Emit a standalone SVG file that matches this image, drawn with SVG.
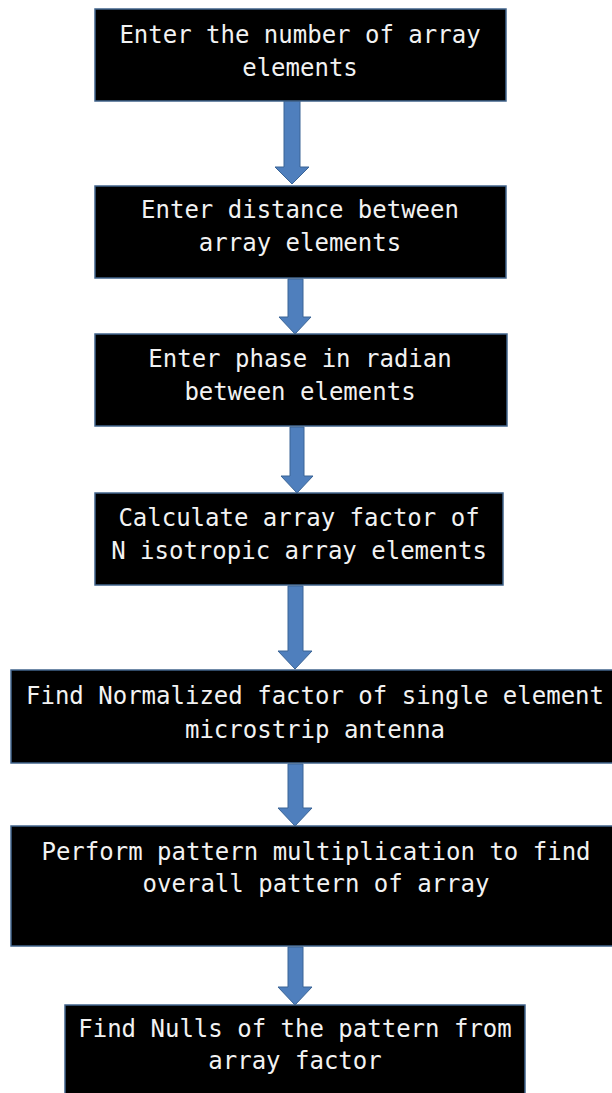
<svg xmlns="http://www.w3.org/2000/svg" width="612" height="1093" viewBox="0 0 612 1093">
<style>
.box{fill:#000;stroke:#41648c;stroke-width:1.5}
.t{fill:#f2f2f2;font-family:"DejaVu Sans Mono","Liberation Mono",monospace;font-size:24px;text-anchor:middle}
.arr{fill:#4f7fbd;stroke:#3a6496;stroke-width:1}
</style>
<rect width="612" height="1093" fill="#fff"/>
<g id="connectors">
<path class="arr" d="M284,101 H300 V167 H309 L292,184 L275,167 H284 Z"/>
<path class="arr" d="M288,279 H303 V317 H311 L295,334 L279,317 H288 Z"/>
<path class="arr" d="M290,427 H304 V476 H313 L297,493 L281,476 H290 Z"/>
<path class="arr" d="M288,586 H303 V651 H312 L295,669 L278,651 H288 Z"/>
<path class="arr" d="M288,764 H303 V808 H312 L295,826 L278,808 H288 Z"/>
<path class="arr" d="M288,947 H303 V987 H312 L295,1005 L278,987 H288 Z"/>
</g>
<g id="n1"><rect class="box" x="95" y="9" width="411" height="92"/>
<text class="t" x="300" y="43">Enter the number of array</text>
<text class="t" x="300" y="76">elements</text></g>
<g id="n2"><rect class="box" x="95" y="186" width="411" height="92"/>
<text class="t" x="300" y="218">Enter distance between</text>
<text class="t" x="300" y="251">array elements</text></g>
<g id="n3"><rect class="box" x="95" y="334" width="412" height="92"/>
<text class="t" x="300" y="367">Enter phase in radian</text>
<text class="t" x="300" y="400">between elements</text></g>
<g id="n4"><rect class="box" x="95" y="493" width="408" height="92"/>
<text class="t" x="299" y="526">Calculate array factor of</text>
<text class="t" x="299" y="559">N isotropic array elements</text></g>
<g id="n5"><rect class="box" x="11" y="670" width="606" height="93"/>
<text class="t" x="315" y="704">Find Normalized factor of single element</text>
<text class="t" x="315" y="738">microstrip antenna</text></g>
<g id="n6"><rect class="box" x="11" y="826" width="606" height="120"/>
<text class="t" x="316" y="860">Perform pattern multiplication to find</text>
<text class="t" x="316" y="892">overall pattern of array</text></g>
<g id="n7"><rect class="box" x="65" y="1005" width="460" height="95"/>
<text class="t" x="295" y="1037">Find Nulls of the pattern from</text>
<text class="t" x="295" y="1069">array factor</text></g>
</svg>
